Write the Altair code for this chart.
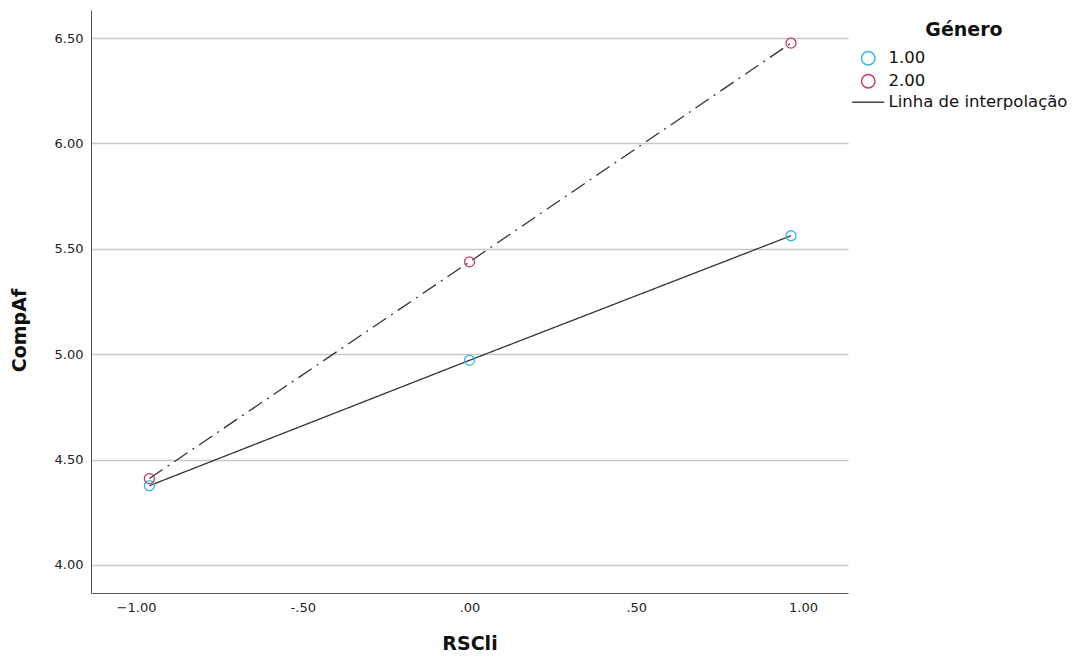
import altair as alt
import pandas as pd

# Data
rscli = [-0.96, 0.00, 0.964]
comp_g1 = [4.376, 4.971, 5.562]
comp_g2 = [4.41, 5.438, 6.476]
groups = ["1.00", "2.00"]
legend_items = ["1.00", "2.00", "Linha de interpolação"]
x_ticks = [-1.0, -0.5, 0.0, 0.5, 1.0]
y_ticks = [4.0, 4.5, 5.0, 5.5, 6.0, 6.5]

rows = []
for x, y in zip(rscli, comp_g1):
    rows.append({"RSCli": x, "CompAf": y, "Género": groups[0]})
for x, y in zip(rscli, comp_g2):
    rows.append({"RSCli": x, "CompAf": y, "Género": groups[1]})
df = pd.DataFrame(rows)

FONT = "DejaVu Sans"

x_enc = alt.X(
    "RSCli:Q",
    scale=alt.Scale(domain=[-1.135, 1.135], nice=False, zero=False),
    axis=alt.Axis(
        values=x_ticks,
        labelExpr="datum.value == 0 ? '.00' : (abs(datum.value) < 1 ? (datum.value < 0 ? '-' : '') + replace(format(abs(datum.value), '.2f'), '0.', '.') : format(datum.value, '.2f'))",
        grid=False,
        ticks=False,
        tickSize=0,
        domainColor="#555555",
        labelFont=FONT,
        labelFontSize=13,
        labelColor="#222222",
        labelPadding=8,
        title="RSCli",
        titleFont=FONT,
        titleFontSize=19,
        titleFontWeight="bold",
        titleColor="#111111",
        titlePadding=20,
    ),
)
y_enc = alt.Y(
    "CompAf:Q",
    scale=alt.Scale(domain=[3.867, 6.633], nice=False, zero=False),
    axis=alt.Axis(
        values=y_ticks,
        format=".2f",
        grid=True,
        gridColor="#c8c8c8",
        gridWidth=1.5,
        ticks=False,
        tickSize=0,
        domainColor="#555555",
        labelFont=FONT,
        labelFontSize=13,
        labelColor="#222222",
        labelPadding=8,
        title="CompAf",
        titleFont=FONT,
        titleFontSize=19,
        titleFontWeight="bold",
        titleColor="#111111",
        titleX=-62,
        titleY=320,
    ),
)

lines = alt.Chart(df).mark_line(color="#333333", strokeWidth=1.3).encode(
    x=x_enc,
    y=y_enc,
    strokeDash=alt.StrokeDash(
        "Género:N",
        scale=alt.Scale(domain=groups, range=[[1, 0], [16, 6, 2, 6]]),
        legend=None,
    ),
    detail="Género:N",
)

points = alt.Chart(df).mark_point(filled=False, strokeWidth=1.3, opacity=1, size=100).encode(
    x="RSCli:Q",
    y="CompAf:Q",
    color=alt.Color(
        "Género:N",
        scale=alt.Scale(domain=legend_items, range=["#33b6ea", "#c8386e", "#444444"]),
        legend=alt.Legend(
            title="Género",
            orient="none",
            legendX=769,
            legendY=11,
            titleFont=FONT,
            titleFontSize=19,
            titleFontWeight="bold",
            titleColor="#111111",
            titleAnchor="middle",
            titlePadding=10,
            labelFont=FONT,
            labelFontSize=16.5,
            labelColor="#111111",
            labelLimit=300,
            labelOffset=12,
            symbolSize=180,
            symbolStrokeWidth=1.5,
            symbolFillColor="transparent",
            rowPadding=3,
        ),
    ),
    shape=alt.Shape(
        "Género:N",
        scale=alt.Scale(domain=legend_items, range=["circle", "circle", "M-2.4,0H2.4"]),
    ),
)

chart = (
    alt.layer(lines, points)
    .properties(
        width=757,
        height=583,
        padding={"left": 91, "top": 10, "right": 226, "bottom": 68},
        autosize="none",
        background="white",
    )
    .configure_view(stroke=None)
    .configure_axisY(domain=True)
)

chart.save("out.html", embed_options={"renderer": "svg", "actions": False})
